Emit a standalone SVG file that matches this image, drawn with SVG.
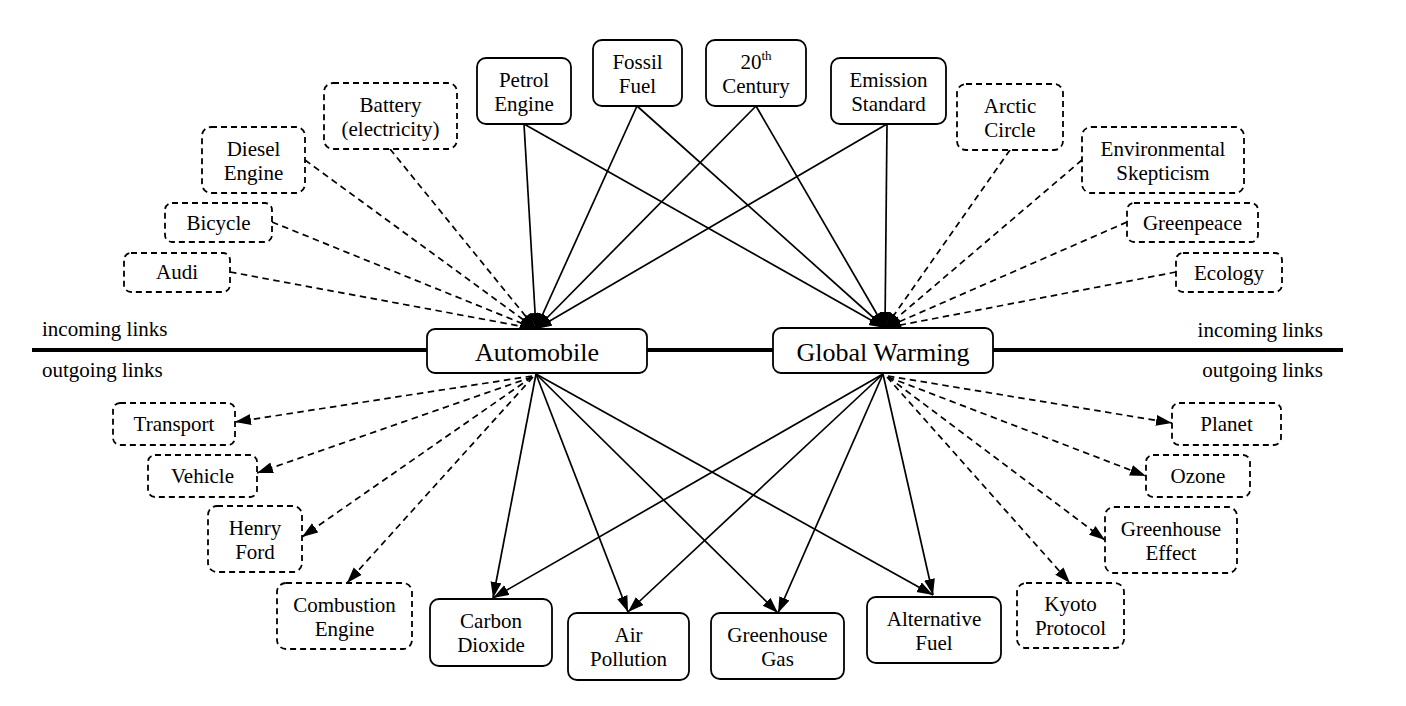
<svg xmlns="http://www.w3.org/2000/svg" width="1406" height="706" viewBox="0 0 1406 706">
<style>
.n rect{fill:#fff;stroke:#000;stroke-width:1.8}
.d rect{fill:#fff;stroke:#000;stroke-width:1.8;stroke-dasharray:6 4}
text{font-family:"Liberation Serif","Times New Roman",serif;font-size:21px;text-anchor:middle;fill:#000}
.big{font-size:26px}
.lab{text-anchor:start}
.labr{text-anchor:end}
.e line{stroke:#000;stroke-width:1.7;fill:none}
.e .s{marker-end:url(#ah)}
.e .dd{stroke-dasharray:6.5 4.5;marker-end:url(#ah)}
</style>
<defs>
<marker id="ah" markerUnits="userSpaceOnUse" markerWidth="17" markerHeight="12" refX="16" refY="5.5" orient="auto">
<path d="M0,0 L16,5.5 L0,11 z" fill="#000"/>
</marker>
</defs>
<rect width="1406" height="706" fill="#fff"/>
<line x1="32" y1="350" x2="1343" y2="350" stroke="#000" stroke-width="4"/>
<text class="lab" x="42" y="336">incoming links</text>
<text class="lab" x="42" y="377">outgoing links</text>
<text class="labr" x="1323" y="337">incoming links</text>
<text class="labr" x="1323" y="377">outgoing links</text>
<g class="e" id="connectors">
<line class="s" x1="524" y1="124" x2="536" y2="329"/>
<line class="s" x1="524" y1="124" x2="885" y2="328"/>
<line class="s" x1="637" y1="106" x2="536" y2="329"/>
<line class="s" x1="637" y1="106" x2="885" y2="328"/>
<line class="s" x1="756" y1="106" x2="536" y2="329"/>
<line class="s" x1="756" y1="106" x2="885" y2="328"/>
<line class="s" x1="887" y1="124" x2="536" y2="329"/>
<line class="s" x1="887" y1="124" x2="885" y2="328"/>
<line class="dd" x1="230" y1="272" x2="536" y2="329"/>
<line class="dd" x1="272" y1="222" x2="536" y2="329"/>
<line class="dd" x1="305" y1="160" x2="536" y2="329"/>
<line class="dd" x1="390" y1="149" x2="536" y2="329"/>
<line class="dd" x1="1010" y1="150" x2="885" y2="328"/>
<line class="dd" x1="1082" y1="160" x2="885" y2="328"/>
<line class="dd" x1="1127" y1="222" x2="885" y2="328"/>
<line class="dd" x1="1176" y1="272" x2="885" y2="328"/>
<line class="s" x1="536" y1="374" x2="493" y2="598"/>
<line class="s" x1="536" y1="374" x2="628" y2="612"/>
<line class="s" x1="536" y1="374" x2="778" y2="613"/>
<line class="s" x1="536" y1="374" x2="933" y2="595"/>
<line class="s" x1="883" y1="374" x2="493" y2="598"/>
<line class="s" x1="883" y1="374" x2="628" y2="612"/>
<line class="s" x1="883" y1="374" x2="778" y2="613"/>
<line class="s" x1="883" y1="374" x2="933" y2="595"/>
<line class="dd" x1="532" y1="376" x2="235" y2="422"/>
<line class="dd" x1="532" y1="377" x2="257" y2="473"/>
<line class="dd" x1="532" y1="377" x2="302" y2="537"/>
<line class="dd" x1="533" y1="377" x2="347" y2="583"/>
<line class="dd" x1="888" y1="376" x2="1172" y2="423"/>
<line class="dd" x1="888" y1="377" x2="1146" y2="476"/>
<line class="dd" x1="888" y1="377" x2="1105" y2="540"/>
<line class="dd" x1="887" y1="377" x2="1070" y2="583"/>
</g>
<g class="n" id="automobile"><rect x="427" y="329" width="220" height="44" rx="8"/><text class="big" x="537" y="361">Automobile</text></g>
<g class="n" id="global-warming"><rect x="773" y="328" width="220" height="45" rx="8"/><text class="big" x="883" y="361">Global Warming</text></g>
<g class="n" id="petrol-engine"><rect x="477" y="58" width="94" height="66" rx="9"/><text x="524" y="87">Petrol</text><text x="524" y="111">Engine</text></g>
<g class="n" id="fossil-fuel"><rect x="593" y="40" width="89" height="66" rx="9"/><text x="637.5" y="69">Fossil</text><text x="637.5" y="93">Fuel</text></g>
<g class="n" id="century"><rect x="706" y="40" width="100" height="66" rx="9"/><text x="756" y="69">20<tspan font-size="13" dy="-9">th</tspan></text><text x="756" y="93">Century</text></g>
<g class="n" id="emission-standard"><rect x="831" y="58" width="115" height="66" rx="9"/><text x="888.5" y="87">Emission</text><text x="888.5" y="111">Standard</text></g>
<g class="d" id="battery"><rect x="324" y="83" width="133" height="66" rx="9"/><text x="390.5" y="112">Battery</text><text x="390.5" y="136">(electricity)</text></g>
<g class="d" id="diesel-engine"><rect x="202" y="127" width="103" height="66" rx="9"/><text x="253.5" y="156">Diesel</text><text x="253.5" y="180">Engine</text></g>
<g class="d" id="bicycle"><rect x="165" y="203" width="107" height="39" rx="7"/><text x="218.5" y="230">Bicycle</text></g>
<g class="d" id="audi"><rect x="124" y="253" width="106" height="39" rx="7"/><text x="177" y="279">Audi</text></g>
<g class="d" id="arctic-circle"><rect x="957" y="84" width="106" height="66" rx="9"/><text x="1010" y="113">Arctic</text><text x="1010" y="137">Circle</text></g>
<g class="d" id="environmental-skepticism"><rect x="1082" y="127" width="162" height="66" rx="9"/><text x="1163" y="156">Environmental</text><text x="1163" y="180">Skepticism</text></g>
<g class="d" id="greenpeace"><rect x="1127" y="203" width="131" height="39" rx="7"/><text x="1192.5" y="230">Greenpeace</text></g>
<g class="d" id="ecology"><rect x="1176" y="253" width="106" height="39" rx="7"/><text x="1229" y="280">Ecology</text></g>
<g class="d" id="transport"><rect x="113" y="403" width="122" height="42" rx="7"/><text x="174" y="431">Transport</text></g>
<g class="d" id="vehicle"><rect x="148" y="455" width="109" height="42" rx="7"/><text x="202.5" y="483">Vehicle</text></g>
<g class="d" id="henry-ford"><rect x="208" y="506" width="94" height="66" rx="9"/><text x="255" y="535">Henry</text><text x="255" y="559">Ford</text></g>
<g class="d" id="combustion-engine"><rect x="277" y="583" width="135" height="66" rx="9"/><text x="344.5" y="612">Combustion</text><text x="344.5" y="636">Engine</text></g>
<g class="n" id="carbon-dioxide"><rect x="430" y="599" width="122" height="67" rx="9"/><text x="491" y="628">Carbon</text><text x="491" y="652">Dioxide</text></g>
<g class="n" id="air-pollution"><rect x="568" y="613" width="121" height="67" rx="9"/><text x="628.5" y="642">Air</text><text x="628.5" y="666">Pollution</text></g>
<g class="n" id="greenhouse-gas"><rect x="711" y="613" width="133" height="66" rx="9"/><text x="777.5" y="642">Greenhouse</text><text x="777.5" y="666">Gas</text></g>
<g class="n" id="alternative-fuel"><rect x="867" y="597" width="134" height="66" rx="9"/><text x="934" y="626">Alternative</text><text x="934" y="650">Fuel</text></g>
<g class="d" id="planet"><rect x="1172" y="403" width="109" height="42" rx="7"/><text x="1226.5" y="431">Planet</text></g>
<g class="d" id="ozone"><rect x="1146" y="455" width="104" height="42" rx="7"/><text x="1198" y="483">Ozone</text></g>
<g class="d" id="greenhouse-effect"><rect x="1105" y="507" width="132" height="66" rx="9"/><text x="1171" y="536">Greenhouse</text><text x="1171" y="560">Effect</text></g>
<g class="d" id="kyoto-protocol"><rect x="1017" y="583" width="107" height="65" rx="9"/><text x="1070.5" y="611">Kyoto</text><text x="1070.5" y="635">Protocol</text></g>
</svg>
